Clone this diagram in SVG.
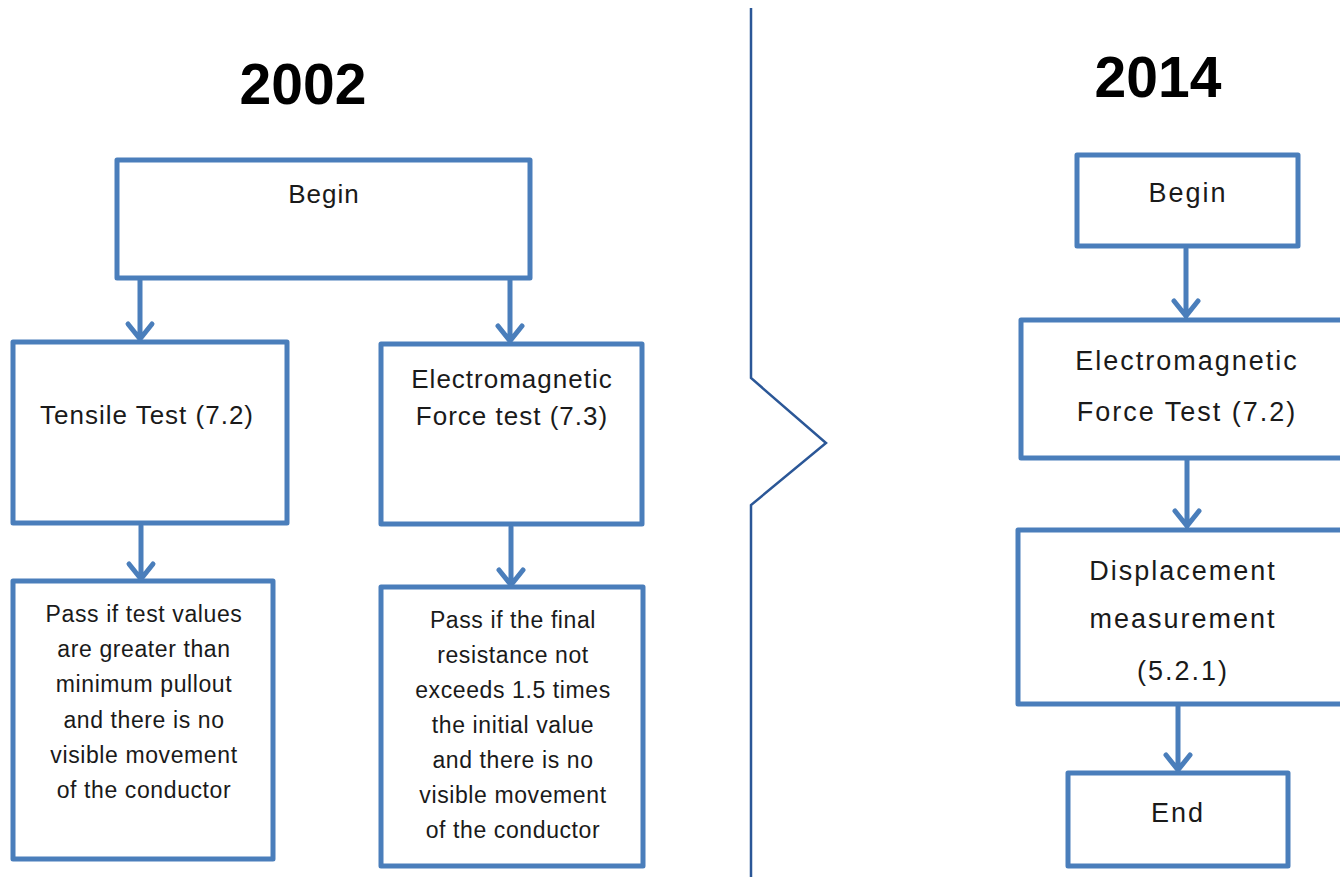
<svg xmlns="http://www.w3.org/2000/svg" width="1340" height="877" viewBox="0 0 1340 877">
<style>
.box{fill:#fff;stroke:#4A7EBB;stroke-width:5;stroke-linejoin:round}
.con{fill:none;stroke:#4A7EBB;stroke-width:5;stroke-linecap:round;stroke-linejoin:round}
.t{font-family:"Liberation Sans",Arial,sans-serif;fill:#1a1a1a;text-anchor:middle}
.l26{font-size:26px;letter-spacing:1px}
.l24{font-size:23px;letter-spacing:0.6px}
.r28{font-size:27px;letter-spacing:2px}
.title{font-family:"Liberation Sans",Arial,sans-serif;font-weight:bold;font-size:57px;fill:#000;text-anchor:middle}
</style>
<rect width="1340" height="877" fill="#fff"/>
<g id="titles">
<text class="title" x="303" y="104">2002</text>
<text class="title" x="1158" y="97">2014</text>
</g>
<g id="divider">
<polyline points="751,8 751,378 826,443 751,505 751,877" fill="none" stroke="#2B5797" stroke-width="2.5"/>
</g>
<g id="connectors">
<path class="con" d="M140,280 V339 M128,324 L140,339 L152,324"/>
<path class="con" d="M510,280 V341 M498,326 L510,341 L522,326"/>
<path class="con" d="M141,526 V579 M129,564 L141,579 L153,564"/>
<path class="con" d="M511,527 V585 M499,570 L511,585 L523,570"/>
<path class="con" d="M1186,249 V316 M1174,301 L1186,316 L1198,301"/>
<path class="con" d="M1187,460 V526 M1175,511 L1187,526 L1199,511"/>
<path class="con" d="M1178,706 V770 M1166,755 L1178,770 L1190,755"/>
</g>
<g id="begin2002">
<rect class="box" x="117" y="160" width="413" height="118"/>
<text class="t l26" x="324" y="203">Begin</text>
</g>
<g id="tensile">
<rect class="box" x="13" y="342" width="274" height="181"/>
<text class="t l26" x="147" y="424">Tensile Test (7.2)</text>
</g>
<g id="emf2002">
<rect class="box" x="381" y="344" width="261" height="180"/>
<text class="t l26" x="512" y="388">Electromagnetic</text>
<text class="t l26" x="512" y="425">Force test (7.3)</text>
</g>
<g id="pass-tensile">
<rect class="box" x="13" y="581" width="260" height="278"/>
<text class="t l24" x="144" y="622">Pass if test values</text>
<text class="t l24" x="144" y="657">are greater than</text>
<text class="t l24" x="144" y="692">minimum pullout</text>
<text class="t l24" x="144" y="728">and there is no</text>
<text class="t l24" x="144" y="763">visible movement</text>
<text class="t l24" x="144" y="798">of the conductor</text>
</g>
<g id="pass-emf">
<rect class="box" x="381" y="587" width="262" height="279"/>
<text class="t l24" x="513" y="628">Pass if the final</text>
<text class="t l24" x="513" y="663">resistance not</text>
<text class="t l24" x="513" y="698">exceeds 1.5 times</text>
<text class="t l24" x="513" y="733">the initial value</text>
<text class="t l24" x="513" y="768">and there is no</text>
<text class="t l24" x="513" y="803">visible movement</text>
<text class="t l24" x="513" y="838">of the conductor</text>
</g>
<g id="begin2014">
<rect class="box" x="1077" y="155" width="221" height="91"/>
<text class="t r28" x="1188" y="202">Begin</text>
</g>
<g id="emf2014">
<rect class="box" x="1021" y="320" width="340" height="138"/>
<text class="t r28" x="1187" y="370">Electromagnetic</text>
<text class="t r28" x="1187" y="421">Force Test (7.2)</text>
</g>
<g id="displacement">
<rect class="box" x="1018" y="530" width="343" height="174"/>
<text class="t r28" x="1183" y="580">Displacement</text>
<text class="t r28" x="1183" y="628">measurement</text>
<text class="t r28" x="1183" y="680">(5.2.1)</text>
</g>
<g id="end">
<rect class="box" x="1068" y="773" width="220" height="93"/>
<text class="t r28" x="1178" y="822">End</text>
</g>
</svg>
